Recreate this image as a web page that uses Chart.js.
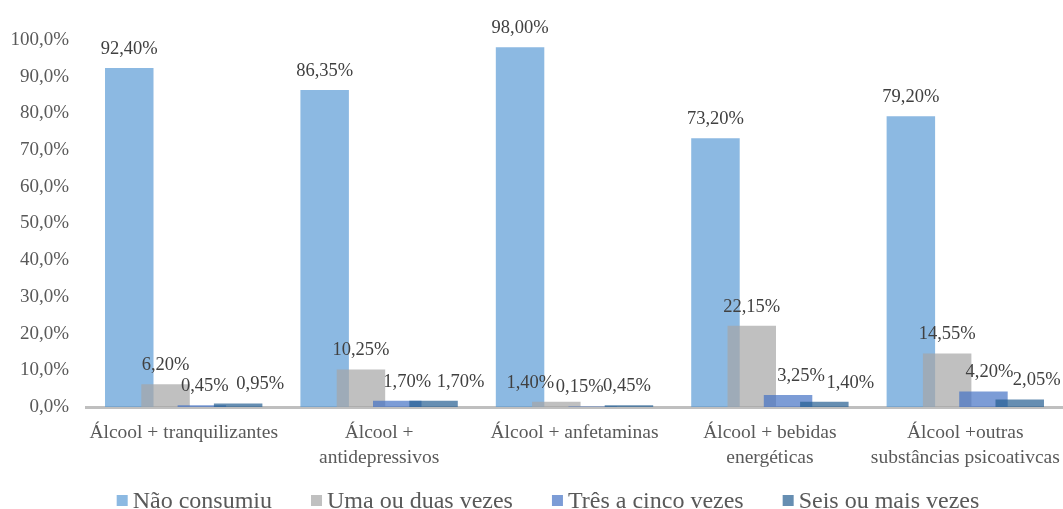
<!DOCTYPE html>
<html>
<head>
<meta charset="utf-8">
<script src="https://cdn.jsdelivr.net/npm/chart.js@4.4.1/dist/chart.umd.min.js"></script>
<style>
  html, body { margin: 0; padding: 0; background: #fff; }
  #wrap { width: 1063px; height: 509px; }
</style>
</head>
<body>
<div id="wrap"><canvas id="chart"></canvas></div>
<script>
const categories = [
    'Álcool + tranquilizantes',
    ['Álcool +', 'antidepressivos'],
    'Álcool + anfetaminas',
    ['Álcool + bebidas', 'energéticas'],
    ['Álcool +outras', 'substâncias psicoativcas'],
];
const seriesNames = ['Não consumiu', 'Uma ou duas vezes', 'Três a cinco vezes', 'Seis ou mais vezes'];
const naoConsumiu = [92.40, 86.35, 98.00, 73.20, 79.20];
const umaOuDuas = [6.20, 10.25, 1.40, 22.15, 14.55];
const tresACinco = [0.45, 1.70, 0.15, 3.25, 4.20];
const seisOuMais = [0.95, 1.70, 0.45, 1.40, 2.05];
const yMin = 0;
const yMax = 100;
const yStep = 10;

const seriesColors = [
    'rgba(91, 155, 213, 0.7)',
    'rgba(165, 165, 165, 0.7)',
    'rgba(68, 114, 196, 0.7)',
    'rgba(37, 94, 145, 0.7)',
];

// sideways nudges (px) for value labels that would otherwise collide, per series
const labelNudge = [
    [0, 0, 0, 0, 0],
    [0, 0, -26, 0, 0],
    [3, 10, -13, 13, 6],
    [22, 27, -2, 26, 17],
];

const serif = "'Liberation Serif', 'Times New Roman', serif";
Chart.defaults.font.family = serif;

function pct(value, digits) {
    return value.toFixed(digits).replace('.', ',') + '%';
}

// bars overlap, so draw them first-to-last (later series on top), then the value labels
const barsAndLabels = {
    id: 'barsAndLabels',
    beforeDatasetsDraw(chart) {
        const metas = chart.getSortedVisibleDatasetMetas();
        metas.forEach(meta => meta.controller.draw());

        const ctx = chart.ctx;
        ctx.save();
        ctx.font = `18.5px ${serif}`;
        ctx.fillStyle = '#404040';
        ctx.textAlign = 'center';
        ctx.textBaseline = 'middle';
        metas.forEach(meta => {
            const values = chart.data.datasets[meta.index].data;
            meta.data.forEach((bar, i) => {
                ctx.fillText(pct(values[i], 2), bar.x + labelNudge[meta.index][i], bar.y - 19);
            });
        });
        ctx.restore();
        return false;
    },
};

// legend row: small square, tight gap, then the series name
const bottomLegend = {
    id: 'bottomLegend',
    afterDraw(chart) {
        const ctx = chart.ctx;
        const box = 11;
        const gap = 5;
        const spacing = 39;
        const centerX = 548;
        const baseline = 508;

        ctx.save();
        ctx.font = `24px ${serif}`;
        ctx.textBaseline = 'alphabetic';
        ctx.textAlign = 'left';
        const items = chart.data.datasets.map(ds => ({
            text: ds.label,
            color: ds.backgroundColor,
            width: ctx.measureText(ds.label).width,
        }));
        const total = items.reduce((sum, it) => sum + box + gap + it.width, 0) + spacing * (items.length - 1);
        let x = centerX - total / 2;
        items.forEach(it => {
            ctx.fillStyle = it.color;
            ctx.fillRect(x, baseline - 13, box, box);
            ctx.fillStyle = '#595959';
            ctx.fillText(it.text, x + box + gap, baseline);
            x += box + gap + it.width + spacing;
        });
        ctx.restore();
    },
};

const datasets = [naoConsumiu, umaOuDuas, tresACinco, seisOuMais].map((values, i) => ({
    label: seriesNames[i],
    data: values,
    backgroundColor: seriesColors[i],
    borderWidth: 0,
    categoryPercentage: 0.743,
    barPercentage: 1.336,
}));

new Chart(document.getElementById('chart'), {
    type: 'bar',
    data: { labels: categories, datasets },
    options: {
        responsive: true,
        maintainAspectRatio: false,
        animation: false,
        layout: { padding: { top: 40, right: 0, bottom: 32, left: 0 } },
        plugins: {
            legend: { display: false },
            tooltip: { enabled: false },
        },
        scales: {
            x: {
                grid: { display: false, drawTicks: false },
                border: { color: '#bfbfbf', width: 3 },
                ticks: {
                    color: '#595959',
                    padding: 14,
                    maxRotation: 0,
                    autoSkip: false,
                    font: { family: serif, size: 19.5, lineHeight: 1.25 },
                },
                afterFit(scale) {
                    scale.height = 70;
                    scale.paddingLeft = 0;
                    scale.paddingRight = 0;
                },
            },
            y: {
                min: yMin,
                max: yMax,
                grid: { display: false, drawTicks: false },
                border: { display: false },
                ticks: {
                    stepSize: yStep,
                    padding: 17,
                    color: '#595959',
                    font: { family: serif, size: 19 },
                    callback: value => pct(value, 1),
                },
                afterFit(scale) { scale.width = 86; },
            },
        },
    },
    plugins: [barsAndLabels, bottomLegend],
});
</script>
</body>
</html>
